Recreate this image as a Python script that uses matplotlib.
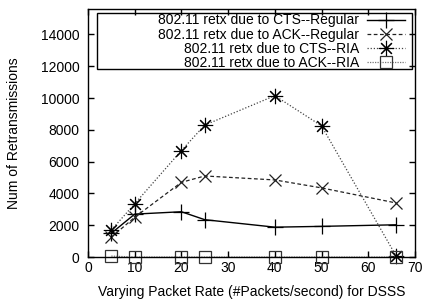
import matplotlib
matplotlib.use("Agg")
from matplotlib import pyplot as plt
from matplotlib.patches import Rectangle

plt.rcParams['font.family'] = ['Liberation Sans', 'DejaVu Sans']

rates = [5, 10, 20, 25, 40, 50, 66]
cts_regular = [1500, 2700, 2850, 2350, 1880, 1930, 2030]
ack_regular = [1250, 2500, 4700, 5100, 4850, 4350, 3400]
cts_ria = [1700, 3350, 6700, 8300, 10150, 8250, 50]
ack_ria = [60, 0, 0, 0, 0, 0, 0]

labels = ["802.11 retx due to CTS--Regular",
          "802.11 retx due to ACK--Regular",
          "802.11 retx due to CTS--RIA",
          "802.11 retx due to ACK--RIA"]

fig = plt.figure(figsize=(4.23, 3.01), dpi=100)
ax = fig.add_axes([0.208, 0.146, 0.773, 0.824])

ms = 10
ax.plot(rates, cts_regular, color='black', lw=1.0, ls='-', clip_on=False,
        marker='+', ms=ms + 1, mew=0.9, label=labels[0])
ax.plot(rates, ack_regular, color='#222222', lw=0.9, ls=(0, (3, 2)), clip_on=False,
        marker='x', ms=ms - 1, mew=0.9, label=labels[1])
ax.plot(rates, cts_ria, color='#444444', lw=0.9, ls=(0, (1, 1.5)), clip_on=False,
        marker=(8, 2, 0), ms=ms + 1, mew=0.8, mec='black', label=labels[2])
ax.plot(rates, ack_ria, color='#777777', lw=0.9, ls=(0, (1, 1)), clip_on=False,
        marker='s', ms=ms - 1, mew=0.9, mfc='none', mec='#333333', label=labels[3])

ax.set_xlim(0, 70)
ax.set_ylim(0, 15600)
ax.set_xticks(range(0, 71, 10))
ax.set_yticks(range(0, 14001, 2000))
ax.tick_params(direction='in', top=True, right=True, length=4, width=1,
               labelsize=10)
ax.tick_params(axis='y', pad=6)
ax.tick_params(axis='x', pad=3)
for s in ax.spines.values():
    s.set_linewidth(1.0)

ax.set_xlabel("Varying Packet Rate (#Packets/second) for DSSS", fontsize=10, labelpad=7)
ax.set_ylabel("Num of Retransmissions", fontsize=10, labelpad=14)

# gnuplot-style key: right-aligned text, sample on the right, wide box
leg = ax.legend(loc='upper right', bbox_to_anchor=(0.97, 0.982),
                markerfirst=False, fontsize=10, frameon=False,
                borderpad=0.0, labelspacing=0.01, handlelength=2.75,
                handletextpad=0.55, borderaxespad=0.0)
for vp in leg._legend_handle_box.get_children():
    vp.align = "right"
ax.add_patch(Rectangle((0.0275, 0.758), 0.963, 0.226, transform=ax.transAxes,
                       fill=False, edgecolor='black', lw=1.0, zorder=5))

fig.savefig('out.png', dpi=100)
